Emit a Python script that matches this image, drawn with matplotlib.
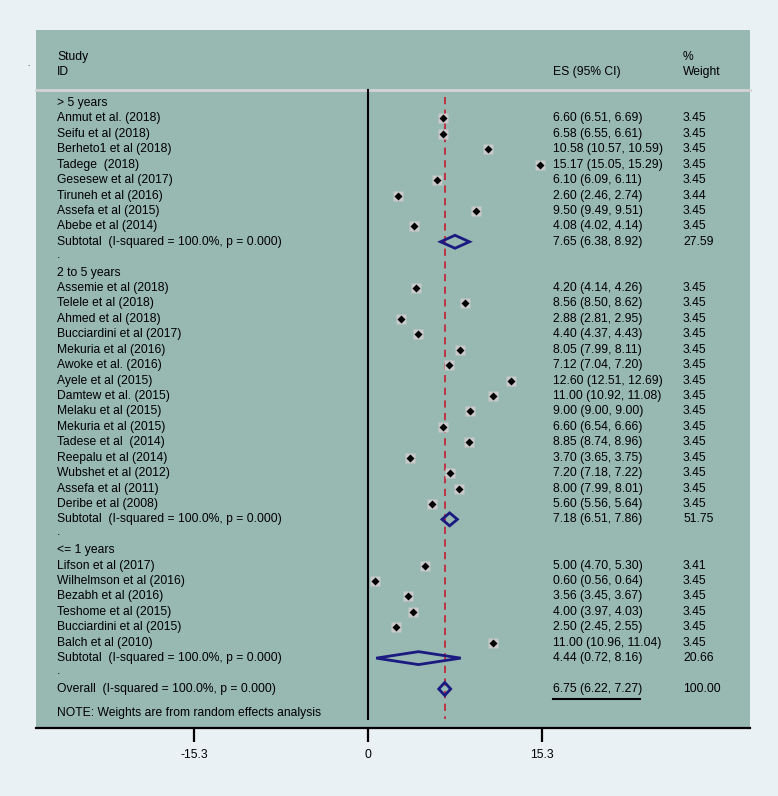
import numpy as np
import matplotlib.pyplot as plt
from matplotlib.patches import Polygon
from matplotlib.transforms import blended_transform_factory

plt.rcParams['font.family'] = ['Liberation Sans', 'DejaVu Sans']

# ---- data ----
groups = ['> 5 years', '2 to 5 years', '<= 1 years']

studies = [
    ['Anmut et al. (2018)', 'Seifu et al (2018)', 'Berheto1 et al (2018)', 'Tadege  (2018)',
     'Gesesew et al (2017)', 'Tiruneh et al (2016)', 'Assefa et al (2015)', 'Abebe et al (2014)'],
    ['Assemie et al (2018)', 'Telele et al (2018)', 'Ahmed et al (2018)', 'Bucciardini et al (2017)',
     'Mekuria et al (2016)', 'Awoke et al. (2016)', 'Ayele et al (2015)', 'Damtew et al. (2015)',
     'Melaku et al (2015)', 'Mekuria et al (2015)', 'Tadese et al  (2014)', 'Reepalu et al (2014)',
     'Wubshet et al (2012)', 'Assefa et al (2011)', 'Deribe et al (2008)'],
    ['Lifson et al (2017)', 'Wilhelmson et al (2016)', 'Bezabh et al (2016)', 'Teshome et al (2015)',
     'Bucciardini et al (2015)', 'Balch et al (2010)'],
]
es = [
    [6.60, 6.58, 10.58, 15.17, 6.10, 2.60, 9.50, 4.08],
    [4.20, 8.56, 2.88, 4.40, 8.05, 7.12, 12.60, 11.00, 9.00, 6.60, 8.85, 3.70, 7.20, 8.00, 5.60],
    [5.00, 0.60, 3.56, 4.00, 2.50, 11.00],
]
lo = [
    [6.51, 6.55, 10.57, 15.05, 6.09, 2.46, 9.49, 4.02],
    [4.14, 8.50, 2.81, 4.37, 7.99, 7.04, 12.51, 10.92, 9.00, 6.54, 8.74, 3.65, 7.18, 7.99, 5.56],
    [4.70, 0.56, 3.45, 3.97, 2.45, 10.96],
]
hi = [
    [6.69, 6.61, 10.59, 15.29, 6.11, 2.74, 9.51, 4.14],
    [4.26, 8.62, 2.95, 4.43, 8.11, 7.20, 12.69, 11.08, 9.00, 6.66, 8.96, 3.75, 7.22, 8.01, 5.64],
    [5.30, 0.64, 3.67, 4.03, 2.55, 11.04],
]
weights = [
    [3.45, 3.45, 3.45, 3.45, 3.45, 3.44, 3.45, 3.45],
    [3.45] * 15,
    [3.41, 3.45, 3.45, 3.45, 3.45, 3.45],
]
sub_es = [7.65, 7.18, 4.44]
sub_lo = [6.38, 6.51, 0.72]
sub_hi = [8.92, 7.86, 8.16]
sub_w = [27.59, 51.75, 20.66]
overall = (6.75, 6.22, 7.27)
ticks = [-15.3, 0, 15.3]

panel = '#98b8b2'
outer = '#e9f1f4'
navy = '#1a1a80'

fig = plt.figure(figsize=(7.78, 7.96), dpi=100, facecolor=outer)
W, H = 778, 796
# panel in pixels: x 36..750, y 30..728
ax = fig.add_axes([36 / W, 1 - 728 / H, (750 - 36) / W, (728 - 30) / H])
ax.set_facecolor(panel)

px = 11.37  # pixels per unit
x0 = 368
ax.set_xlim((36 - x0) / px, (750 - x0) / px)
row_h = 15.42
ax.set_ylim((728 - 103) / row_h, (30 - 103) / row_h)

for s in ['top', 'left', 'right']:
    ax.spines[s].set_visible(False)
ax.spines['bottom'].set_linewidth(1.6)
ax.set_yticks([])
ax.set_xticks(ticks)
ax.set_xticklabels(['-15.3', '0', '15.3'], fontsize=8.7)
ax.tick_params(axis='x', length=10, width=1.6, pad=5)

tr = blended_transform_factory(ax.transAxes, ax.transData)
xs = (57 - 36) / (750 - 36)
xe = (553 - 36) / (750 - 36)
xw = (683 - 36) / (750 - 36)
fs = 8.7

# header
ax.text(xs, -2.98, 'Study', transform=tr, fontsize=fs, va='center')
ax.text(xs, -2.01, 'ID', transform=tr, fontsize=fs, va='center')
ax.text(xe, -2.01, 'ES (95% CI)', transform=tr, fontsize=fs, va='center')
ax.text(xw, -2.98, '%', transform=tr, fontsize=fs, va='center')
ax.text(xw, -2.01, 'Weight', transform=tr, fontsize=fs, va='center')
ax.plot([0, 1], [-0.84, -0.84], transform=tr, color='#d4d4d4', lw=2, clip_on=False)
fig.text(28 / W, 1 - 65 / H, '.', fontsize=6, ha='center', va='center')

# reference lines
ax.plot([0, 0], [-0.84, 39.95], color='black', lw=1.5)
ax.plot([overall[0], overall[0]], [-0.4, 39.95], color='#c0283a', lw=1.3,
        dashes=(4, 3))

def diamond(y, c, l, h, half=0.42):
    d = Polygon([[l, y], [c, y - half], [h, y], [c, y + half]], closed=True,
                fill=False, edgecolor=navy, lw=2, zorder=4)
    ax.add_patch(d)

row = 0
for g in range(3):
    ax.text(xs, row, groups[g], transform=tr, fontsize=fs, va='center')
    row += 1
    for i in range(len(studies[g])):
        ax.text(xs, row, studies[g][i], transform=tr, fontsize=fs, va='center')
        ax.text(xe, row, '%.2f (%.2f, %.2f)' % (es[g][i], lo[g][i], hi[g][i]),
                transform=tr, fontsize=fs, va='center')
        ax.text(xw, row, '%.2f' % weights[g][i], transform=tr, fontsize=fs, va='center')
        ax.plot([lo[g][i], hi[g][i]], [row, row], color='black', lw=1, zorder=3)
        ax.plot(es[g][i], row, marker='s', ms=6.5, color='#c9c9c9', mec='none', zorder=3)
        ax.plot(es[g][i], row, marker='D', ms=4.5, color='black', mec='none', zorder=4)
        row += 1
    ax.text(xs, row, 'Subtotal  (I-squared = 100.0%, p = 0.000)', transform=tr,
            fontsize=fs, va='center')
    ax.text(xe, row, '%.2f (%.2f, %.2f)' % (sub_es[g], sub_lo[g], sub_hi[g]),
            transform=tr, fontsize=fs, va='center')
    ax.text(xw, row, '%.2f' % sub_w[g], transform=tr, fontsize=fs, va='center')
    diamond(row, sub_es[g], sub_lo[g], sub_hi[g])
    row += 1
    ax.text(xs, row - 0.15, '.', transform=tr, fontsize=fs, va='center')
    row += 1

ax.text(xs, row, 'Overall  (I-squared = 100.0%, p = 0.000)', transform=tr,
        fontsize=fs, va='center')
ax.text(xe, row, '%.2f (%.2f, %.2f)' % overall, transform=tr, fontsize=fs, va='center')
ax.text(xw, row, '100.00', transform=tr, fontsize=fs, va='center')
ax.plot([xe, (640 - 36) / (750 - 36)], [row + 0.65, row + 0.65], transform=tr,
        color='black', lw=1.5)
diamond(row, overall[0], overall[1], overall[2])
ax.text(xs, row + 1.55, 'NOTE: Weights are from random effects analysis', transform=tr,
        fontsize=fs, va='center')

fig.savefig('out.png', dpi=100, facecolor=outer)
